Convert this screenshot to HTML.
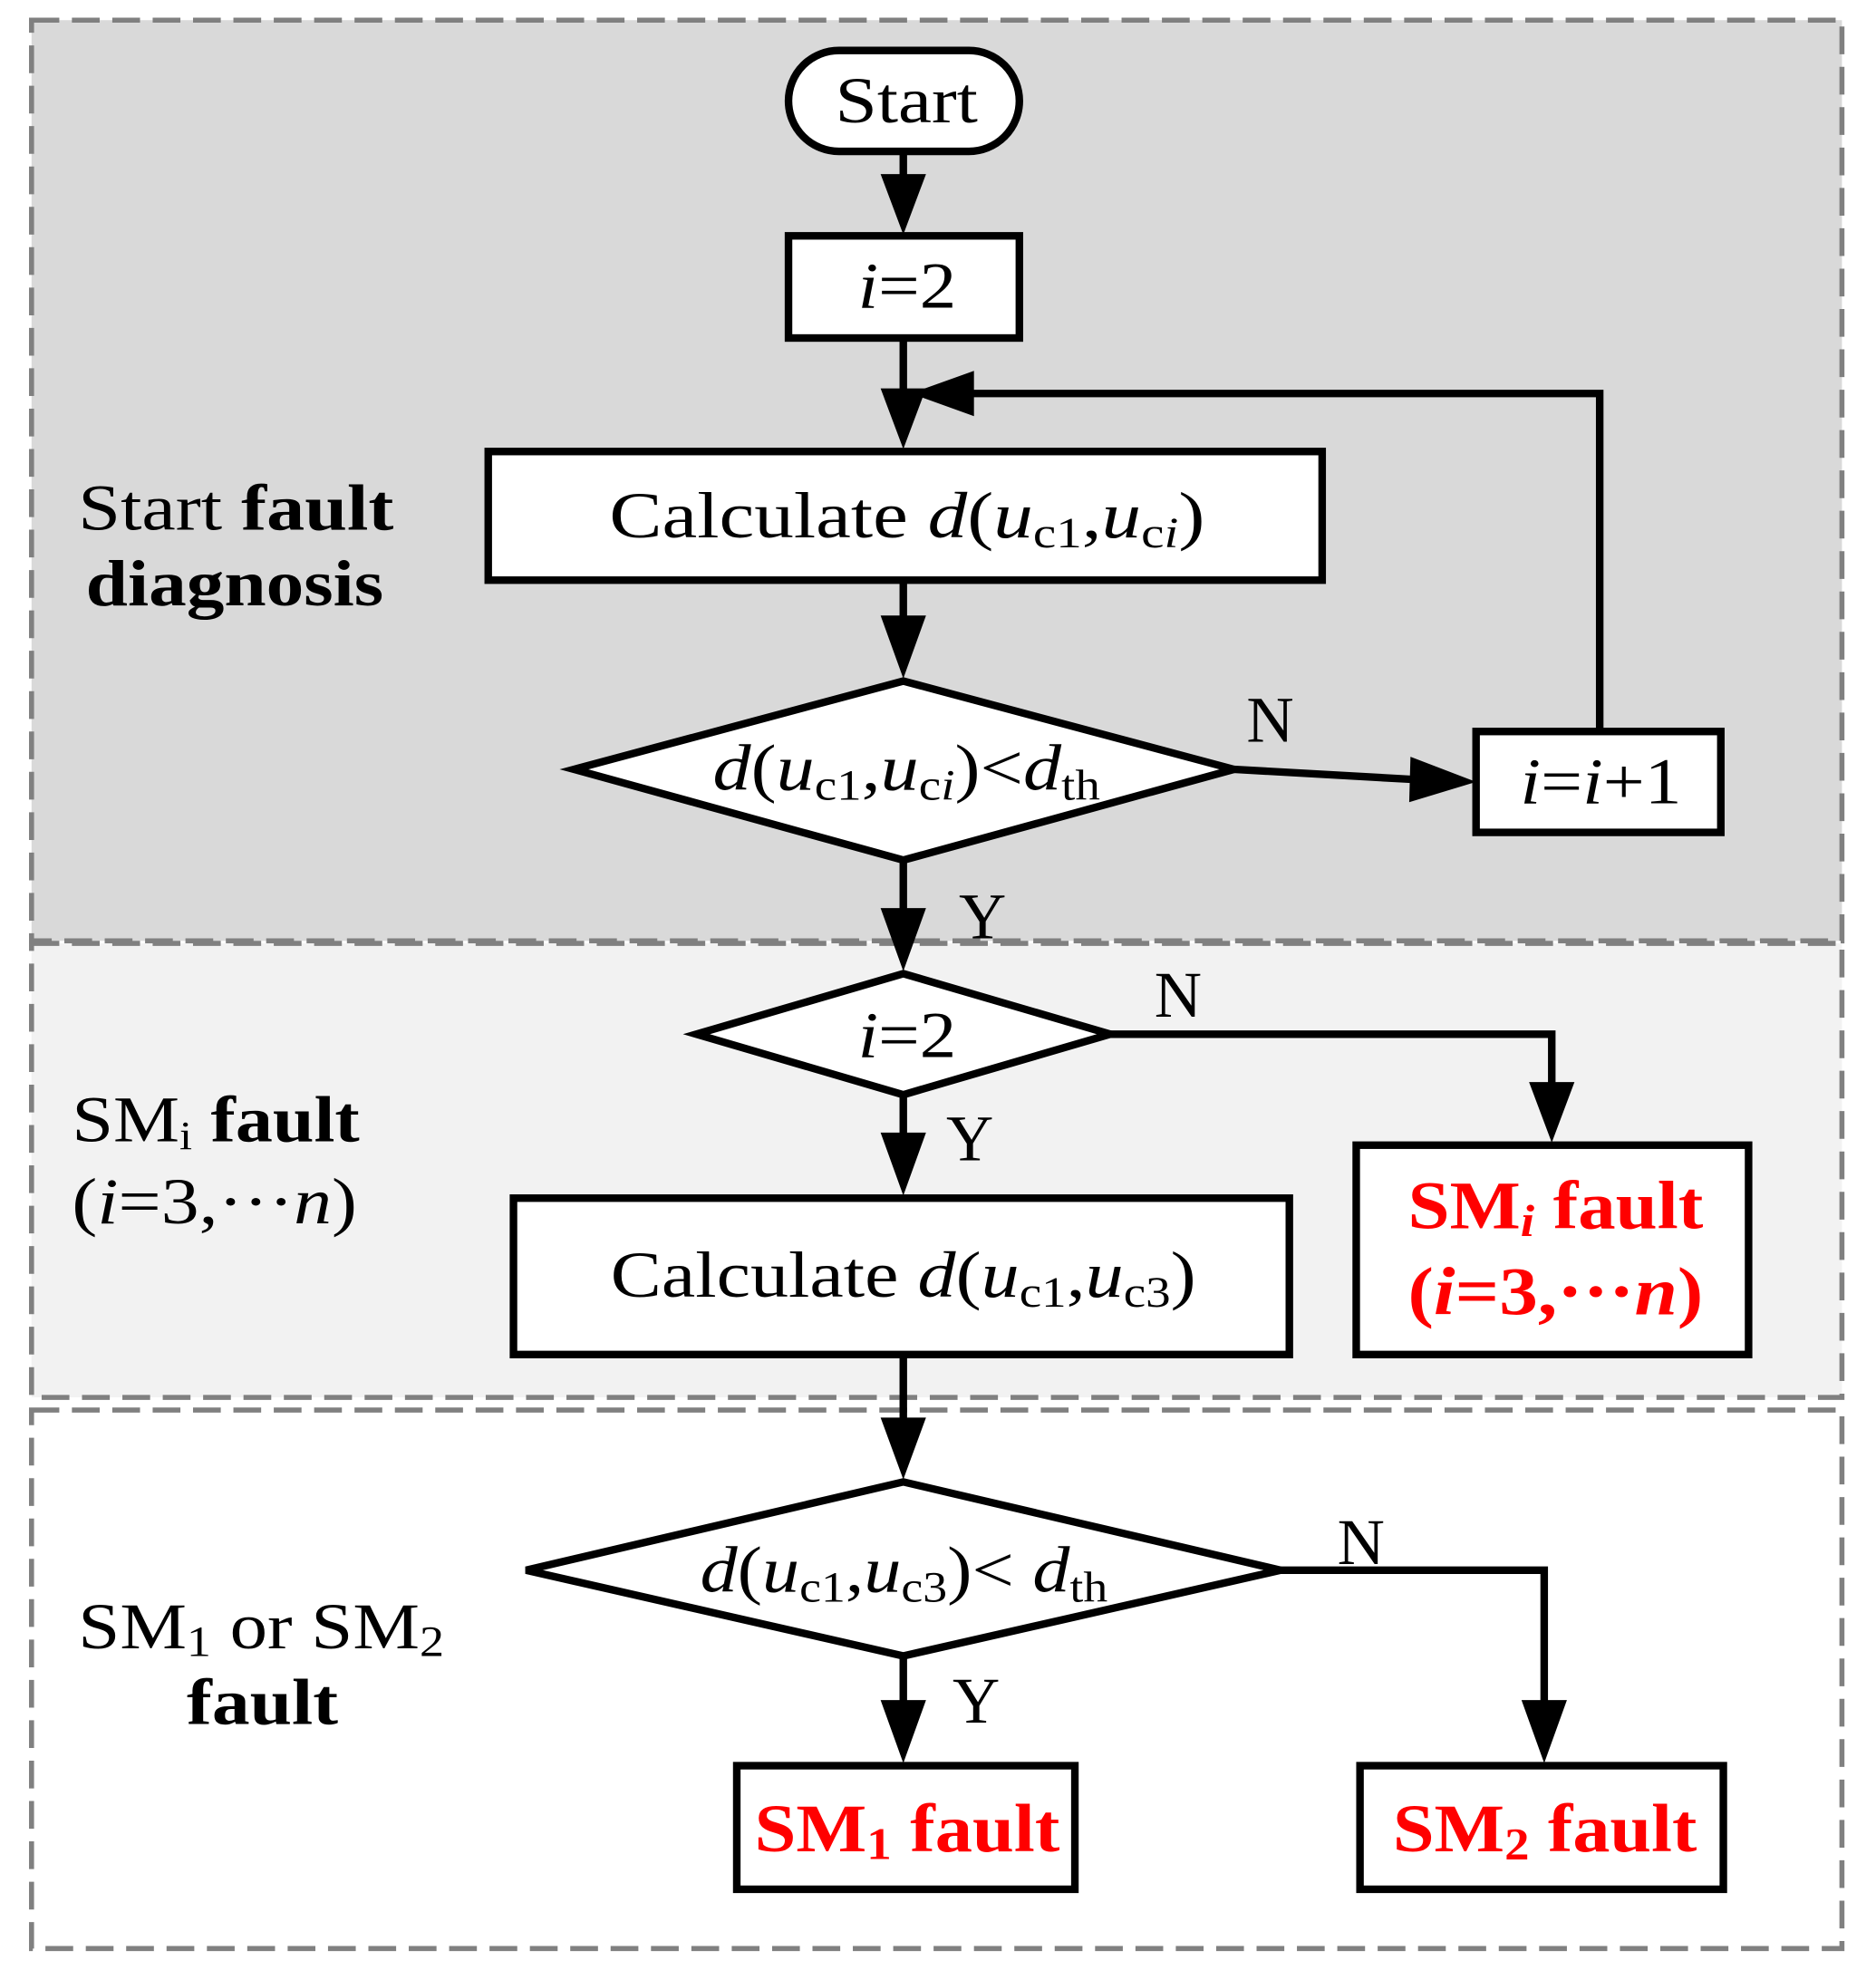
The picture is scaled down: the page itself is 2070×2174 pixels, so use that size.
<!DOCTYPE html>
<html><head><meta charset="utf-8"><style>
html,body{margin:0;padding:0;background:#fff;}
svg{display:block;}
text{font-family:"Liberation Serif",serif;}
</style></head><body>
<svg width="2070" height="2174" viewBox="0 0 1487 1562" preserveAspectRatio="none" xmlns="http://www.w3.org/2000/svg">
<rect x="25" y="16" width="1435" height="730" fill="#d9d9d9" stroke="#808080" stroke-width="4" stroke-dasharray="22,10"/>
<rect x="25" y="748" width="1435" height="360" fill="#f2f2f2" stroke="#808080" stroke-width="4" stroke-dasharray="22,10"/>
<rect x="25" y="1118" width="1435" height="427" fill="#fff" stroke="#808080" stroke-width="4" stroke-dasharray="22,10"/>

<g stroke="#000" stroke-width="6" fill="none">
<line x1="716" y1="120" x2="716" y2="140"/>
<line x1="716" y1="268" x2="716" y2="310"/>
<line x1="716" y1="460" x2="716" y2="490"/>
<line x1="978" y1="610" x2="1120" y2="618"/>
<polyline points="1268,580 1268,312 770,312"/>
<line x1="716" y1="682" x2="716" y2="722"/>
<polyline points="880,820 1230,820 1230,860"/>
<line x1="716" y1="868" x2="716" y2="900"/>
<line x1="716" y1="1074" x2="716" y2="1126"/>
<line x1="716" y1="1313" x2="716" y2="1350"/>
<polyline points="1015,1245 1224,1245 1224,1350"/>
</g>
<g fill="#000">
<polygon points="698,138 734,138 716,186"/>
<polygon points="698,308 734,308 716,356"/>
<polygon points="698,488 734,488 716,538"/>
<polygon points="1118,600 1170,620 1117,636"/>
<polygon points="772,294 772,330 722,312"/>
<polygon points="698,720 734,720 716,770"/>
<polygon points="1212,858 1248,858 1230,906"/>
<polygon points="698,898 734,898 716,948"/>
<polygon points="698,1124 734,1124 716,1173"/>
<polygon points="698,1348 734,1348 716,1398"/>
<polygon points="1206,1348 1242,1348 1224,1398"/>
</g>

<g stroke="#000" stroke-width="6" fill="#fff">
<rect x="625" y="40" width="183" height="80" rx="40"/>
<rect x="625" y="187" width="183" height="81"/>
<rect x="387" y="358" width="661" height="102"/>
<polygon points="455,610 716,540 978,610 716,682"/>
<rect x="1170" y="580" width="194" height="80"/>
<polygon points="552,820 716,772 880,820 716,868"/>
<rect x="1075" y="908" width="311" height="166"/>
<rect x="407" y="950" width="615" height="124"/>
<polygon points="417,1245 716,1175 1015,1245 716,1313"/>
<rect x="584" y="1400" width="268" height="98"/>
<rect x="1078" y="1400" width="288" height="98"/>
</g>

<g font-size="52" fill="#000" lengthAdjust="spacingAndGlyphs">
<text x="662" y="97" textLength="113" lengthAdjust="spacingAndGlyphs">Start</text>
<text x="680" y="244" textLength="78" lengthAdjust="spacingAndGlyphs"><tspan font-style="italic">i</tspan>=2</text>
<text x="483" y="426" textLength="472" lengthAdjust="spacingAndGlyphs">Calculate  <tspan font-style="italic">d</tspan>(<tspan font-style="italic">u</tspan><tspan font-size="34" dy="8">c1</tspan><tspan dy="-8">,</tspan><tspan font-style="italic">u</tspan><tspan font-size="34" dy="8">c<tspan font-style="italic">i</tspan></tspan><tspan dy="-8">)</tspan></text>
<text x="565" y="626" textLength="307" lengthAdjust="spacingAndGlyphs"><tspan font-style="italic">d</tspan>(<tspan font-style="italic">u</tspan><tspan font-size="34" dy="8">c1</tspan><tspan dy="-8">,</tspan><tspan font-style="italic">u</tspan><tspan font-size="34" dy="8">c<tspan font-style="italic">i</tspan></tspan><tspan dy="-8">)&lt;</tspan><tspan font-style="italic">d</tspan><tspan font-size="34" dy="8">th</tspan></text>
<text x="1205" y="637" textLength="128" lengthAdjust="spacingAndGlyphs"><tspan font-style="italic">i</tspan>=<tspan font-style="italic">i</tspan>+1</text>
<text x="680" y="838" textLength="78" lengthAdjust="spacingAndGlyphs"><tspan font-style="italic">i</tspan>=2</text>
<text x="484" y="1028" textLength="464" lengthAdjust="spacingAndGlyphs">Calculate <tspan font-style="italic">d</tspan>(<tspan font-style="italic">u</tspan><tspan font-size="34" dy="8">c1</tspan><tspan dy="-8">,</tspan><tspan font-style="italic">u</tspan><tspan font-size="34" dy="8">c3</tspan><tspan dy="-8">)</tspan></text>
<text x="555" y="1262" textLength="323" lengthAdjust="spacingAndGlyphs"><tspan font-style="italic">d</tspan>(<tspan font-style="italic">u</tspan><tspan font-size="34" dy="8">c1</tspan><tspan dy="-8">,</tspan><tspan font-style="italic">u</tspan><tspan font-size="34" dy="8">c3</tspan><tspan dy="-8">)&lt; </tspan><tspan font-style="italic">d</tspan><tspan font-size="34" dy="8">th</tspan></text>
<text x="988" y="588">N</text>
<text x="760" y="744">Y</text>
<text x="915" y="806">N</text>
<text x="750" y="920">Y</text>
<text x="1060" y="1240">N</text>
<text x="755" y="1366">Y</text>
<text x="62" y="420" textLength="250" lengthAdjust="spacingAndGlyphs">Start <tspan font-weight="bold">fault</tspan></text>
<text x="68" y="480" font-weight="bold" textLength="236" lengthAdjust="spacingAndGlyphs">diagnosis</text>
<text x="57" y="905" textLength="228" lengthAdjust="spacingAndGlyphs">SM<tspan font-size="32" dy="6">i</tspan><tspan dy="-6"> </tspan><tspan font-weight="bold">fault</tspan></text>
<text x="57" y="970" textLength="226" lengthAdjust="spacingAndGlyphs">(<tspan font-style="italic">i</tspan>=3,···<tspan font-style="italic">n</tspan>)</text>
<text x="62" y="1307" textLength="290" lengthAdjust="spacingAndGlyphs">SM<tspan font-size="34" dy="6">1</tspan><tspan dy="-6"> or SM</tspan><tspan font-size="34" dy="6">2</tspan></text>
<text x="148" y="1367" font-weight="bold" textLength="120" lengthAdjust="spacingAndGlyphs">fault</text>
</g>
<g font-size="54" fill="#ff0000" font-weight="bold">
<text x="1116" y="974" textLength="234" lengthAdjust="spacingAndGlyphs">SM<tspan font-style="italic" font-size="36" dy="6">i</tspan><tspan dy="-6"> fault</tspan></text>
<text x="1116" y="1042" textLength="234" lengthAdjust="spacingAndGlyphs">(<tspan font-style="italic">i</tspan>=3,···<tspan font-style="italic">n</tspan>)</text>
<text x="598" y="1468" textLength="242" lengthAdjust="spacingAndGlyphs">SM<tspan font-size="36" dy="6">1</tspan><tspan dy="-6"> fault</tspan></text>
<text x="1104" y="1468" textLength="241" lengthAdjust="spacingAndGlyphs">SM<tspan font-size="36" dy="6">2</tspan><tspan dy="-6"> fault</tspan></text>
</g>
</svg>
</body></html>
